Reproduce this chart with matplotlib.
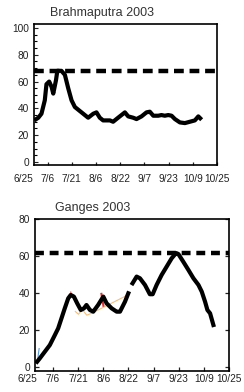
import matplotlib
matplotlib.use('Agg')
import matplotlib.pyplot as plt
import matplotlib.transforms as mtransforms
import numpy as np

plt.rcParams['font.family'] = ['Liberation Sans', 'DejaVu Sans']

# x tick labels (evenly spaced, 16 days apart)
tick_days = [0, 16, 32, 48, 64, 80, 96, 112, 128]
tick_labels = ['6/25', '7/6', '7/21', '8/6', '8/22', '9/7', '9/23', '10/9', '10/25']

# Brahmaputra 2003 (days after 6/25, value)
brahma_day = [7.1, 9.8, 11.9, 14.1, 15.2, 17.0, 18.6, 19.7, 21.5, 22.4, 25.1, 27.4,
              29.6, 31.8, 34.0, 37.3, 40.6, 42.8, 46.2, 48.3, 50.5, 52.7, 57.2, 59.3,
              62.6, 67.1, 69.3, 72.6, 74.8, 78.1, 81.4, 83.6, 85.9, 89.2, 91.3, 93.5,
              95.8, 98.0, 100.2, 103.5, 106.8, 110.1, 113.4, 115.7, 117.9]
brahma_val = [31, 33, 36, 46, 58, 60, 56, 51, 61, 68, 68, 65,
              55, 46, 41, 38, 35, 33, 36, 37, 33, 31, 31, 30,
              33, 37, 34, 33, 32, 34, 37, 37.5, 34.5, 34.5, 35, 34.5,
              35, 34.5, 32, 29.5, 29, 30, 31, 34, 31.5]
brahma_danger = 68

# Ganges 2003 (NaN marks the gap in the record)
ganges_day = [5.9, 7.6, 10.8, 14.0, 17.2, 19.3, 21.4, 23.5, 25.7, 27.3, 29.3, 31.4,
              33.7, 35.7, 37.3, 39.5, 41.6, 44.7, 48.0, 50.1, 53.3, 56.5, 58.6, 61.8,
              63.9, 65.3, 66.6, 69.2, 71.3, 74.5, 77.6, 79.4, 81.9, 85.1, 88.3, 91.5,
              94.3, 95.7, 98.8, 102.1, 105.3, 108.5, 110.6, 112.7, 114.2, 115.9, 118.0]
ganges_val = [2.9, 4.7, 8.3, 11.9, 17.3, 20.9, 26.3, 31.7, 37.1, 38.9, 38.0, 34.4,
              30.8, 31.7, 33.5, 30.8, 29.9, 33.5, 38.0, 34.4, 31.7, 29.9, 29.9, 35.3,
              39.8, np.nan, 45.2, 48.8, 47.9, 44.3, 39.3, 39.3, 44.3, 49.7, 54.2, 58.7,
              61.5, 61.0, 56.9, 52.4, 47.9, 44.3, 40.7, 35.3, 30.8, 29.0, 22.7]
ganges_danger = 61.5

# faint coloured traces behind the Ganges curve
trace_red_day = [27.3, 27.8, 46.8, 47.5, 48.1]
trace_red_val = [40.5, 38.5, 39.5, 36.0, 33.0]
trace_orange_day = [30.2, 32.2, 34.6, 37.5, 40.5, 63.8]
trace_orange_val = [30.0, 28.5, 31.0, 28.0, 29.0, 39.0]
trace_blue_day = [6.2, 6.7, 7.2]
trace_blue_val = [3.0, 7.0, 10.0]

fig = plt.figure(figsize=(2.44, 3.92), dpi=100)
ax1 = fig.add_axes([0.139, 0.580, 0.750, 0.359])
ax2 = fig.add_axes([0.143, 0.054, 0.796, 0.388])

lab_size = 7.3


def date_axis(ax, pad, off):
    for s in ax.spines.values():
        s.set_linewidth(1.2)
    ax.set_xticks(tick_days)
    ax.set_xticklabels(tick_labels)
    ax.tick_params(labelsize=lab_size, colors='#222222', direction='in')
    ax.tick_params(axis='x', pad=pad)
    # first date sits left of the axis start, so it is drawn as plain text
    trans = mtransforms.blended_transform_factory(ax.transData, ax.transAxes)
    ax.text(tick_days[0], -off, tick_labels[0], transform=trans, ha='center', va='top',
            fontsize=lab_size, color='#222222', clip_on=False)


date_axis(ax1, 6.5, 0.063)
date_axis(ax2, 2.5, 0.020)

# Brahmaputra
ax1.plot(brahma_day, brahma_val, color='black', lw=3.0, solid_capstyle='butt')
ax1.axhline(brahma_danger, color='black', lw=3.2, dashes=(2.2, 1.3))
ax1.set_xlim(6.9, 128)
ax1.set_ylim(-2, 103)
ax1.set_yticks([0, 20, 40, 60, 80, 100])
ax1.set_yticks(np.arange(0, 101, 5), minor=True)
ax1.tick_params(axis='y', which='minor', direction='in', length=2, width=0.8)
ax1.tick_params(axis='y', which='major', length=3, width=0.8)
ax1.tick_params(axis='x', length=2.5, width=0.9)
fig.text(0.42, 0.968, 'Brahmaputra 2003', ha='center', va='center', fontsize=9, color='#333333')

# Ganges
ax2.plot(trace_red_day[:2], trace_red_val[:2], color='#e05050', lw=0.8)
ax2.plot(trace_red_day[2:], trace_red_val[2:], color='#e03030', lw=1.5)
ax2.plot(trace_orange_day, trace_orange_val, color='#f0b060', lw=0.8, alpha=0.8)
ax2.plot(trace_blue_day, trace_blue_val, color='#5a9ad0', lw=0.8)
ax2.plot(ganges_day, ganges_val, color='black', lw=3.0)
ax2.axhline(ganges_danger, color='black', lw=3.2, dashes=(2.0, 1.3))
ax2.set_xlim(4.5, 128)
ax2.set_ylim(-2, 80)
ax2.set_yticks([0, 20, 40, 60, 80])
ax2.tick_params(axis='both', length=3, width=0.9, right=True)
fig.text(0.38, 0.470, 'Ganges 2003', ha='center', va='center', fontsize=9, color='#333333')

fig.savefig('out.png', dpi=100)
